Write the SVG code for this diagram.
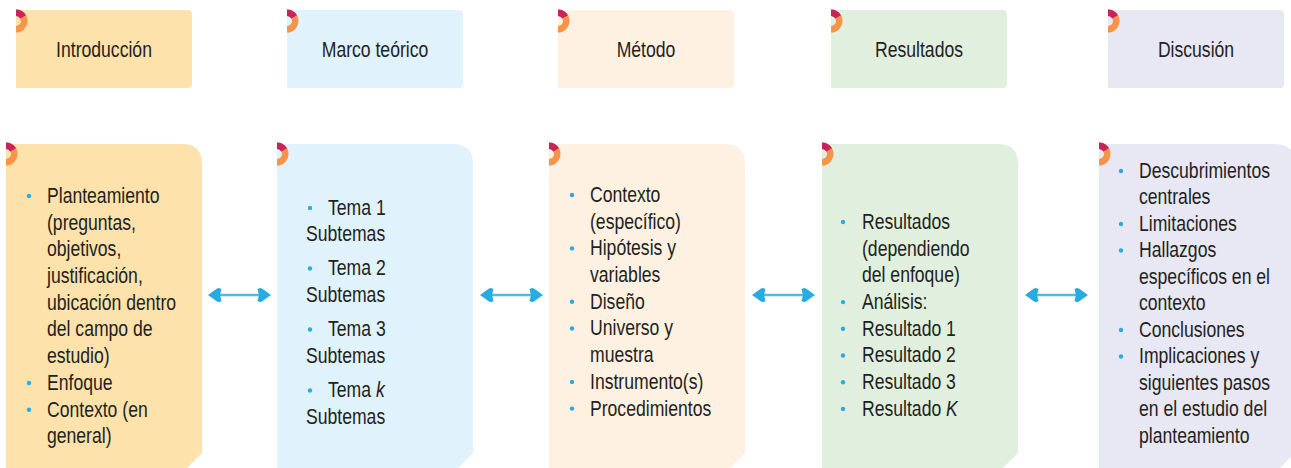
<svg xmlns="http://www.w3.org/2000/svg" width="1291" height="468" viewBox="0 0 1291 468">
<style>
.t{font-family:"Liberation Sans",Arial,sans-serif;font-size:22px;fill:#231f20}
.h{text-anchor:middle}
.b{fill:#29abe2}
.c1{fill:#fde2ab}.c2{fill:#e0f2fc}.c3{fill:#fef1e1}.c4{fill:#e1efde}.c5{fill:#e8e7f4}
.ln{stroke:#4fb8e6;stroke-width:2.5;fill:none}
</style>
<defs>
<g id="ring">
<path d="M0,-11.5 A11.5,11.5 0 0 1 0,11.5 L0,5 A5,5 0 0 0 0,-5 Z" fill="#f7944a"/>
<path d="M0,-11.5 A11.5,11.5 0 0 1 9.96,-5.75 L4.33,-2.5 A5,5 0 0 0 0,-5 Z" fill="#c8235a"/>
</g>
<path id="tb" d="M0,0 H172 Q176,0 176,4 V74 Q176,78 172,78 H0 Z"/>
<path id="bb" d="M0,0 H176 Q196,0 196,20 V309 L181,324 H0 Z"/>
<marker id="ah" viewBox="-15 -8 16 16" refX="-3" refY="0" markerWidth="16" markerHeight="16" markerUnits="userSpaceOnUse" orient="auto-start-reverse">
<path d="M0,0 L-9,-6.5 Q-12,-8 -13.5,-5.5 L-12,0 L-13.5,5.5 Q-12,8 -9,6.5 Z" fill="#29abe2"/>
</marker>
</defs>
<rect width="1291" height="468" fill="#ffffff"/>

<g id="top-introduccion">
<use href="#tb" x="16" y="10" class="c1"/>
<use href="#ring" x="16" y="21"/>
<g transform="translate(104,57) scale(0.8,1)"><text class="t h" x="0" y="0">Introducción</text></g>
</g>
<g id="top-marco">
<use href="#tb" x="287" y="10" class="c2"/>
<use href="#ring" x="287" y="21"/>
<g transform="translate(375,57) scale(0.8,1)"><text class="t h" x="0" y="0">Marco teórico</text></g>
</g>
<g id="top-metodo">
<use href="#tb" x="558" y="10" class="c3"/>
<use href="#ring" x="558" y="21"/>
<g transform="translate(646,57) scale(0.8,1)"><text class="t h" x="0" y="0">Método</text></g>
</g>
<g id="top-resultados">
<use href="#tb" x="831" y="10" class="c4"/>
<use href="#ring" x="831" y="21"/>
<g transform="translate(919,57) scale(0.8,1)"><text class="t h" x="0" y="0">Resultados</text></g>
</g>
<g id="top-discusion">
<use href="#tb" x="1108" y="10" class="c5"/>
<use href="#ring" x="1108" y="21"/>
<g transform="translate(1196,57) scale(0.8,1)"><text class="t h" x="0" y="0">Discusión</text></g>
</g>

<g id="box-introduccion">
<use href="#bb" x="6" y="144" class="c1"/>
<use href="#ring" x="6" y="154"/>
<circle class="b" cx="29" cy="196" r="2.2"/>
<circle class="b" cx="29" cy="383" r="2.2"/>
<circle class="b" cx="29" cy="409.7" r="2.2"/>
<g transform="translate(47,0) scale(0.8,1)"><text class="t" x="0" y="203">Planteamiento<tspan x="0" dy="26.7">(preguntas,</tspan><tspan x="0" dy="26.7">objetivos,</tspan><tspan x="0" dy="26.7">justificación,</tspan><tspan x="0" dy="26.7">ubicación dentro</tspan><tspan x="0" dy="26.7">del campo de</tspan><tspan x="0" dy="26.7">estudio)</tspan><tspan x="0" dy="26.7">Enfoque</tspan><tspan x="0" dy="26.7">Contexto (en</tspan><tspan x="0" dy="26.7">general)</tspan></text></g>
</g>

<g id="box-marco">
<use href="#bb" x="277" y="144" class="c2"/>
<use href="#ring" x="277" y="154"/>
<circle class="b" cx="310" cy="208" r="2.2"/>
<circle class="b" cx="310" cy="268.5" r="2.2"/>
<circle class="b" cx="310" cy="329.5" r="2.2"/>
<circle class="b" cx="310" cy="390.5" r="2.2"/>
<g transform="translate(328,0) scale(0.8,1)">
<text class="t" x="0" y="215">Tema 1</text>
<text class="t" x="0" y="275.5">Tema 2</text>
<text class="t" x="0" y="336.5">Tema 3</text>
<text class="t" x="0" y="397.5">Tema <tspan font-style="italic">k</tspan></text>
</g>
<g transform="translate(306,0) scale(0.8,1)">
<text class="t" x="0" y="241.5">Subtemas</text>
<text class="t" x="0" y="302">Subtemas</text>
<text class="t" x="0" y="363">Subtemas</text>
<text class="t" x="0" y="424">Subtemas</text>
</g>
</g>

<g id="box-metodo">
<use href="#bb" x="549" y="144" class="c3"/>
<use href="#ring" x="549" y="154"/>
<circle class="b" cx="572" cy="195" r="2.2"/>
<circle class="b" cx="572" cy="248.4" r="2.2"/>
<circle class="b" cx="572" cy="301.8" r="2.2"/>
<circle class="b" cx="572" cy="328.5" r="2.2"/>
<circle class="b" cx="572" cy="381.9" r="2.2"/>
<circle class="b" cx="572" cy="408.6" r="2.2"/>
<g transform="translate(590,0) scale(0.8,1)"><text class="t" x="0" y="202">Contexto<tspan x="0" dy="26.7">(específico)</tspan><tspan x="0" dy="26.7">Hipótesis y</tspan><tspan x="0" dy="26.7">variables</tspan><tspan x="0" dy="26.7">Diseño</tspan><tspan x="0" dy="26.7">Universo y</tspan><tspan x="0" dy="26.7">muestra</tspan><tspan x="0" dy="26.7">Instrumento(s)</tspan><tspan x="0" dy="26.7">Procedimientos</tspan></text></g>
</g>

<g id="box-resultados">
<use href="#bb" x="822" y="144" class="c4"/>
<use href="#ring" x="822" y="154"/>
<circle class="b" cx="843" cy="222" r="2.2"/>
<circle class="b" cx="843" cy="302.1" r="2.2"/>
<circle class="b" cx="843" cy="328.8" r="2.2"/>
<circle class="b" cx="843" cy="355.5" r="2.2"/>
<circle class="b" cx="843" cy="382.2" r="2.2"/>
<circle class="b" cx="843" cy="408.9" r="2.2"/>
<g transform="translate(862,0) scale(0.8,1)"><text class="t" x="0" y="229">Resultados<tspan x="0" dy="26.7">(dependiendo</tspan><tspan x="0" dy="26.7">del enfoque)</tspan><tspan x="0" dy="26.7">Análisis:</tspan><tspan x="0" dy="26.7">Resultado 1</tspan><tspan x="0" dy="26.7">Resultado 2</tspan><tspan x="0" dy="26.7">Resultado 3</tspan><tspan x="0" dy="26.7">Resultado <tspan font-style="italic">K</tspan></tspan></text></g>
</g>

<g id="box-discusion">
<use href="#bb" x="1099" y="144" class="c5"/>
<use href="#ring" x="1099" y="154"/>
<circle class="b" cx="1121" cy="171" r="2.2"/>
<circle class="b" cx="1121" cy="224" r="2.2"/>
<circle class="b" cx="1121" cy="250.5" r="2.2"/>
<circle class="b" cx="1121" cy="330" r="2.2"/>
<circle class="b" cx="1121" cy="356.5" r="2.2"/>
<g transform="translate(1139,0) scale(0.8,1)"><text class="t" x="0" y="178">Descubrimientos<tspan x="0" dy="26.5">centrales</tspan><tspan x="0" dy="26.5">Limitaciones</tspan><tspan x="0" dy="26.5">Hallazgos</tspan><tspan x="0" dy="26.5">específicos en el</tspan><tspan x="0" dy="26.5">contexto</tspan><tspan x="0" dy="26.5">Conclusiones</tspan><tspan x="0" dy="26.5">Implicaciones y</tspan><tspan x="0" dy="26.5">siguientes pasos</tspan><tspan x="0" dy="26.5">en el estudio del</tspan><tspan x="0" dy="26.5">planteamiento</tspan></text></g>
</g>

<g id="connectors">
<line class="ln" x1="211" y1="295" x2="268" y2="295" marker-start="url(#ah)" marker-end="url(#ah)"/>
<line class="ln" x1="483" y1="295" x2="540" y2="295" marker-start="url(#ah)" marker-end="url(#ah)"/>
<line class="ln" x1="755" y1="295" x2="812" y2="295" marker-start="url(#ah)" marker-end="url(#ah)"/>
<line class="ln" x1="1028" y1="295" x2="1085" y2="295" marker-start="url(#ah)" marker-end="url(#ah)"/>
</g>
</svg>
